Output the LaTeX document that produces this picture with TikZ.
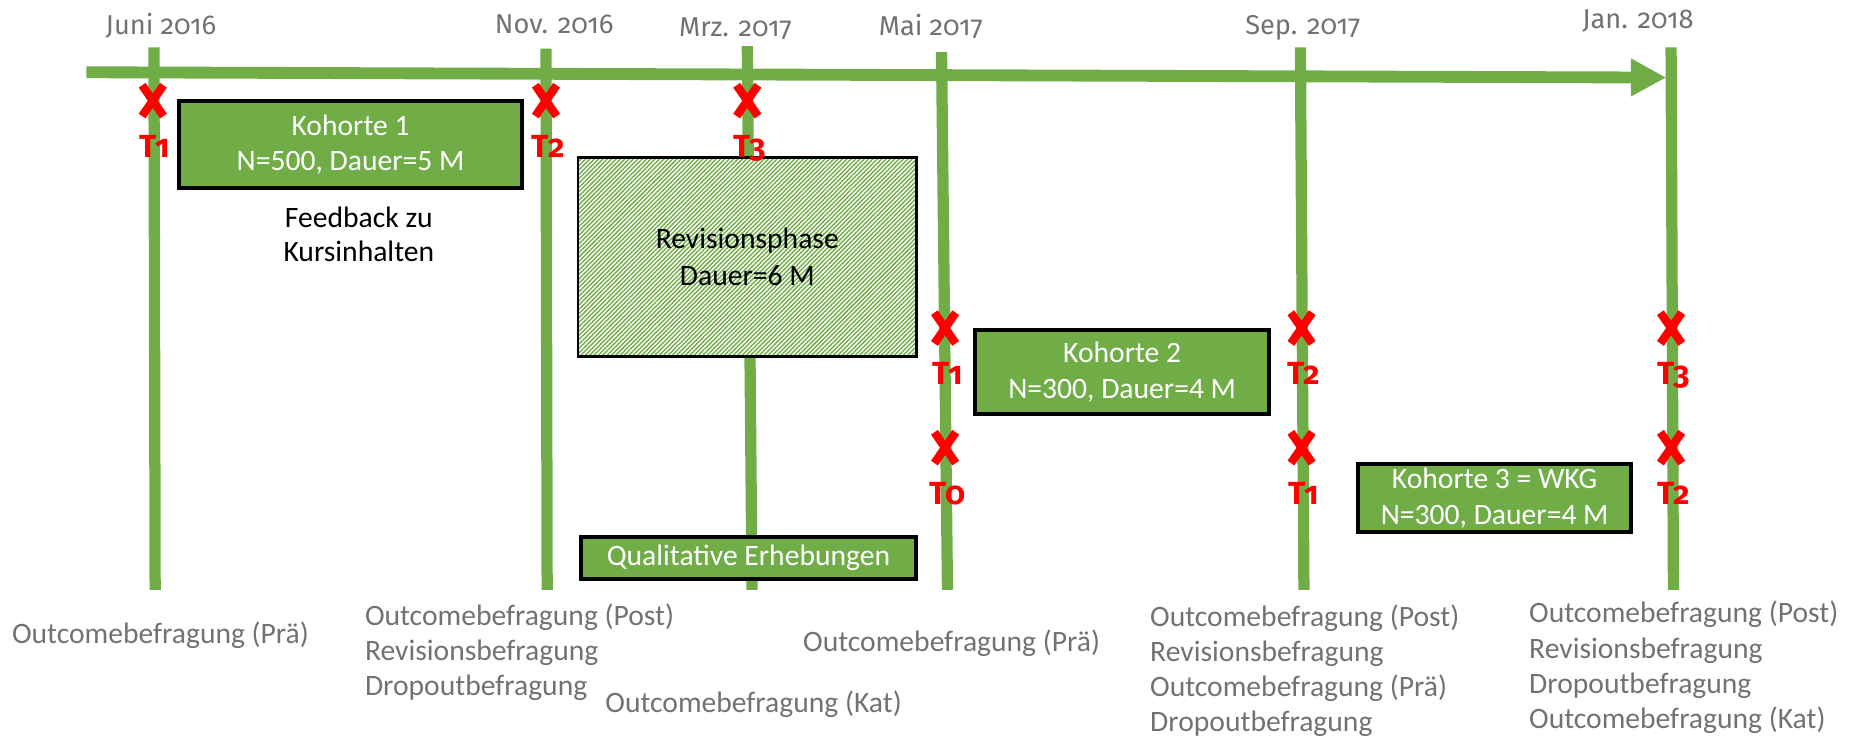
\documentclass[tikz,border=0pt]{standalone}
\usepackage{fontspec}
\setmainfont{Carlito}
\newfontfamily\zahlfont[Numbers=OldStyle]{Fira Sans}
\usetikzlibrary{arrows.meta}
\usetikzlibrary{patterns.meta}
\definecolor{gruen}{RGB}{112,173,71}
\definecolor{grau}{RGB}{118,113,113}

\begin{document}
\begin{tikzpicture}[x=1pt, y=-1pt,
 zeit/.style={gruen, line width=9.5pt},
 kasten/.style={draw=black, line width=3.4pt, fill=gruen, text=white, align=center, inner ysep=2pt, font=\fontsize{25}{30}\selectfont},
 kreuz/.style={red, line width=7pt},
 tlabel/.style={red, anchor=base, inner sep=0, font=\zahlfont\bfseries\fontsize{27}{30}\selectfont},
 datum/.style={grau, anchor=base, inner sep=0, font=\zahlfont\fontsize{23}{28}\selectfont},
 frage/.style={grau, anchor=base west, inner sep=0, font=\fontsize{25}{30}\selectfont}]
\useasboundingbox (0,0) rectangle (1568,625);
% zeitachse
\coordinate (start) at (73,61);
\coordinate (ende) at (1407,65.5);
\draw[gruen, line width=10pt, -{Triangle[length=30pt,width=30pt]}] (start) -- (ende);
% termine
\foreach \name/\x/\xb/\top/\dx/\base/\date in {juni/130/131/40/136/29/Juni 2016, nov/461/462/41/468/28/Nov. 2016, mrz/631/635/39/621/31/Mrz. 2017, mai/795/800/44/786/30/Mai 2017, sep/1098/1101/40/1100/29/Sep. 2017, jan/1411/1413/40/1383/24/Jan. 2018}
{
 \node[datum] (\name) at (\dx,\base) {\date};
 \draw[zeit] (\x,\top) -- (\xb,498);
}
% kohorten
\node[kasten, minimum width=289pt, minimum height=73pt] (k1) at (296,122) {Kohorte 1\\N=500, Dauer=5 M};
\node[align=center, font=\fontsize{25}{29}\selectfont] (feedback) at (303,198) {Feedback zu\\Kursinhalten};
\node[draw=black, line width=2pt, preaction={fill=white}, pattern={Lines[angle=45,distance=2.6pt,line width=1.2pt]}, pattern color=gruen, minimum width=286pt, minimum height=168pt, align=center, font=\fontsize{25}{31}\selectfont] (rev) at (631,217) {Revisionsphase\\Dauer=6 M};
\node[kasten, minimum width=248pt, minimum height=71pt] (k2) at (947.5,314) {Kohorte 2\\N=300, Dauer=4 M};
\node[kasten, minimum width=231pt, minimum height=58pt] (k3) at (1262,420.5) {Kohorte 3 = WKG\\N=300, Dauer=4 M};
\node[kasten, minimum width=283pt, minimum height=35pt] (quali) at (632,471) {Qualitative Erhebungen};
% messzeitpunkte
\foreach \x/\y/\n in {129/85/1, 461/85/2, 631/85/3, 798/277/1, 798/378/0, 1099/277/2, 1099/378/1, 1411/277/3, 1411/378/2}
{
 \draw[kreuz] ({\x-9},{\y-13}) -- ({\x+9},{\y+13}) ({\x-9},{\y+13}) -- ({\x+9},{\y-13});
 \node[tlabel] (t-\x-\y) at ({\x+2},{\y+48}) {T\n};
}
% befragungen
\node[frage] (prae1) at (10,543) {Outcomebefragung (Prä)};
\foreach \t [count=\i] in {Outcomebefragung (Post), Revisionsbefragung, Dropoutbefragung}
 \node[frage] (nov\i) at (308,{528+29.6*(\i-1)}) {\t};
\node[frage] (kat) at (511,602) {Outcomebefragung (Kat)};
\node[frage] (prae2) at (678,550) {Outcomebefragung (Prä)};
\foreach \t [count=\i] in {Outcomebefragung (Post), Revisionsbefragung, Outcomebefragung (Prä), Dropoutbefragung}
 \node[frage] (sep\i) at (971,{529+29.6*(\i-1)}) {\t};
\foreach \t [count=\i] in {Outcomebefragung (Post), Revisionsbefragung, Dropoutbefragung, Outcomebefragung (Kat)}
 \node[frage] (jan\i) at (1291,{526+29.6*(\i-1)}) {\t};
\end{tikzpicture}
\end{document}
